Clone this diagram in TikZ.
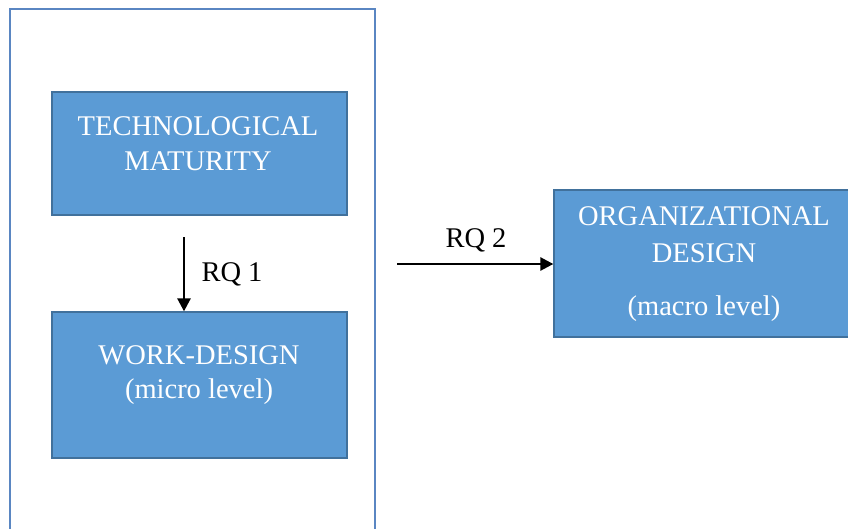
\documentclass[tikz,border=0pt]{standalone}
\usepackage{fontspec}
\setmainfont{Liberation Serif}
\usetikzlibrary{arrows.meta}
\definecolor{boxfill}{HTML}{5B9BD5}
\definecolor{boxline}{HTML}{41719C}
\definecolor{frameline}{HTML}{5A86C2}
\tikzset{
  bluebox/.style={draw=boxline, line width=1.3pt, fill=boxfill, rectangle, inner sep=0pt},
  boxtext/.style={text=white, anchor=base, inner sep=0pt, font=\fontsize{28.5}{35}\selectfont},
  lbl/.style={text=black, anchor=base, inner sep=0pt, font=\fontsize{28.5}{35}\selectfont},
  conn/.style={line width=2.6pt, -{Triangle[length=13pt,width=13pt]}}
}
\begin{document}
\begin{tikzpicture}[x=1pt,y=-1pt]
\clip (0,0) rectangle (848,528);
\fill[white] (0,0) rectangle (848,528);
% outer frame
\draw[frameline, line width=1.5pt] (10,9) rectangle (375,545);
% boxes
\node[bluebox, minimum width=295pt, minimum height=123pt] (tm) at (199.5,153.5) {};
\node[bluebox, minimum width=295pt, minimum height=146pt] (wd) at (199.5,385) {};
\node[bluebox, minimum width=300pt, minimum height=147pt] (od) at (704,263.5) {};
% texts
\node[boxtext] (t1) at (198,135) {TECHNOLOGICAL};
\node[boxtext] (t2) at (198,170) {MATURITY};
\node[boxtext] (t3) at (199,364) {WORK-DESIGN};
\node[boxtext] (t4) at (199,398) {(micro level)};
\node[boxtext] (t5) at (704,225) {ORGANIZATIONAL};
\node[boxtext] (t6) at (704,262) {DESIGN};
\node[boxtext] (t7) at (704,315) {(macro level)};
% connectors
\coordinate (s1) at (184,237);
\coordinate (s2) at (397,264);
\draw[conn] (s1) -- (s1 |- wd.north);
\draw[conn] (s2) -- (s2 -| od.west);
\node[lbl] (rq1) at (232,281) {RQ 1};
\node[lbl] (rq2) at (476,247) {RQ 2};
\end{tikzpicture}
\end{document}
